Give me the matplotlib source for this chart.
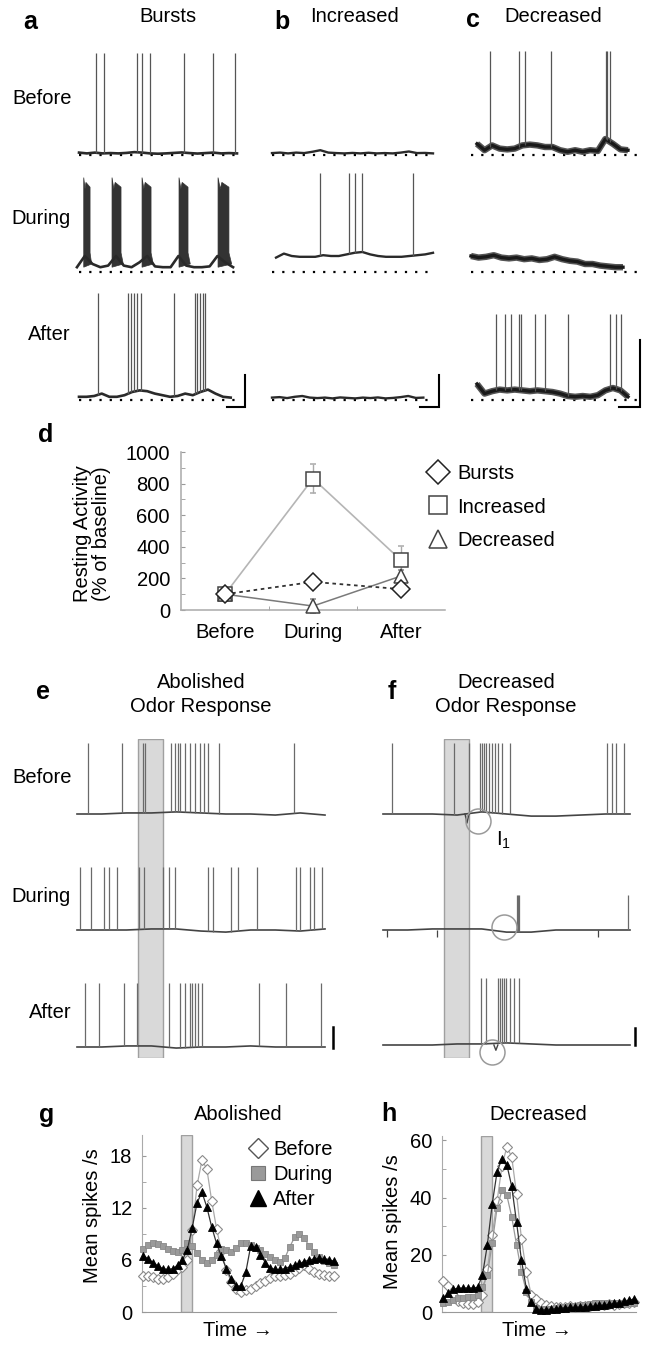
import numpy as np
import matplotlib
matplotlib.use('Agg')
import matplotlib.pyplot as plt
from matplotlib.lines import Line2D

plt.rcParams['font.family'] = ['Liberation Sans', 'DejaVu Sans']

W, H = 656, 1351
FS = 14.5
fig = plt.figure(figsize=(W / 100, H / 100), dpi=100)


def box(x0, y0, x1, y1):
    # axes from a pixel rectangle (y measured from the top)
    return fig.add_axes([x0 / W, 1 - y1 / H, (x1 - x0) / W, (y1 - y0) / H])


def txt(x, y, s, size=FS, **kw):
    fig.text(x / W, 1 - y / H, s, ha='center', va='center', fontsize=size, **kw)


# ---------------- data: traces a-c (time 0..1 of sweep, mV above rest) ----------------
a_before_spikes = [0.108, 0.158, 0.367, 0.399, 0.449, 0.665, 0.848, 0.987]
a_before_base = [1.5, 1.0, 1.5, 1.0, 1.2, 1.0, 1.3, 1.8, 1.5, 1.0, 0.8,
                 1.0, 1.3, 1.6, 1.2, 0.9, 1.2, 1.5, 1.0, 1.2, 1.0]
a_during_bursts = [(0.030, 0.070), (0.209, 0.266), (0.399, 0.456), (0.633, 0.690), (0.880, 0.949)]
a_during_base = [3, 10, 5, 3, 4, 10, 4, 3, 6, 10, 3.5, 3, 3, 10, 4, 3, 3, 3.5, 10, 6, 3]
a_after_spikes = [0.120, 0.310, 0.329, 0.348, 0.367, 0.392, 0.601, 0.734, 0.747, 0.766, 0.785, 0.797]
a_after_base = [2, 2, 2.5, 4, 2, 2, 3, 5, 6, 5.5, 4, 3, 2, 2.5, 4, 3, 5, 6.5, 4, 2, 1.5]

b_before_base = [1.2, 1.5, 1.0, 1.5, 1.2, 2.0, 3.0, 1.5, 1.2, 1.0, 1.3,
                 1.0, 1.4, 1.0, 1.2, 1.0, 1.5, 2.2, 1.2, 1.3, 1.0]
b_during_spikes = [0.298, 0.478, 0.516, 0.559, 0.876]
b_during_base = [9, 11.5, 10, 9.5, 9.5, 9.5, 10.5, 10, 10, 11, 12,
                 12.5, 11, 10, 9.5, 9.5, 9.5, 10, 10.5, 11, 12]
b_after_base = [1.5, 1.8, 1.2, 2.0, 2.5, 1.5, 1.2, 1.5, 1.0, 1.6, 1.3,
                1.0, 1.5, 1.2, 1.6, 1.0, 1.3, 1.8, 2.5, 1.3, 1.5]

c_before_spikes = [0.086, 0.278, 0.318, 0.490, 0.854, 0.861, 0.881]
c_before_base = [7, 3, 6, 4, 3.5, 4, 6, 6.5, 6, 5, 5, 3, 2, 3, 2, 3, 2.5, 10, 7, 3.5, 3]
c_during_base = [10, 9, 9.5, 10.5, 9, 8.5, 9, 8, 8.5, 7.5, 8,
                 9.5, 8, 7, 6.5, 5, 5, 4, 3.5, 3, 3]
c_after_spikes = [0.126, 0.185, 0.225, 0.278, 0.291, 0.384, 0.450, 0.603, 0.881, 0.921, 0.954]
c_after_base = [10, 4, 5.5, 6.5, 6, 6.5, 6, 5.5, 6, 5.5, 5, 4, 2.5, 2, 2.5, 2, 3, 6, 7.5, 6, 2]

# ---------------- data: traces e-f ----------------
odor_window = (0.245, 0.348)
e_before_spikes = [0.044, 0.181, 0.266, 0.274, 0.379, 0.395, 0.407, 0.415, 0.435, 0.456,
                   0.476, 0.496, 0.512, 0.528, 0.573, 0.875]
e_during_spikes = [0.012, 0.056, 0.109, 0.129, 0.161, 0.250, 0.270, 0.347, 0.371, 0.395,
                   0.528, 0.548, 0.621, 0.649, 0.726, 0.883, 0.899, 0.940, 0.956, 0.988]
e_after_spikes = [0.032, 0.089, 0.190, 0.242, 0.371, 0.415, 0.435, 0.456, 0.464, 0.476,
                  0.488, 0.504, 0.734, 0.843, 0.984]
f_before_spikes = [0.036, 0.287, 0.348, 0.393, 0.401, 0.409, 0.417, 0.429, 0.441, 0.453,
                   0.466, 0.482, 0.514, 0.907, 0.927, 0.943, 0.976]
f_during_spikes = [0.543, 0.547, 0.551, 0.992]
f_after_spikes = [0.397, 0.417, 0.466, 0.474, 0.482, 0.490, 0.498, 0.514, 0.530, 0.551]
e_before_base = [0, 0, 0.5, 0.5, 1.0, 0.5, 0, 0, -0.5, 0.5, -0.5]
e_during_base = [0, 0, 0, 0.5, 0.5, -0.5, -1.0, 0, 0, -0.5, 0.5]
e_after_base = [0, 0, 0.5, 0.5, -0.5, 0, 0, 0.5, 0, 0, 0]
f_before_base = [0, 0, 0, -0.5, 1.0, 0, -1, -1, -0.5, 0, 0]
f_during_base = [0, 0, 0.5, 0.5, 0.5, -1, -1, 0, 0, 0, 0]
f_after_base = [0, 0, 0, 0.5, 0.5, 1.0, 0.5, 0, 0, 0, 0]
f_dips = {'before': (0.340, -4.3), 'after': (0.457, -2.5)}
f_during_ticks = [0.016, 0.219, 0.870]
f_circles = [(0, 0.385, -3.3), (1, 0.490, 1.4), (2, 0.441, -3.3)]

# ---------------- data: panel d ----------------
phases = ['Before', 'During', 'After']
bursts_mean = [100, 178, 132]
bursts_err = [15, 25, 20]
increased_mean = [100, 832, 315]
increased_err = [15, 90, 88]
decreased_mean = [100, 25, 215]
decreased_err = [15, 42, 38]

# ---------------- data: panels g, h (mean spikes/s per time bin) ----------------
g_before = [4.2, 4.2, 4.0, 3.8, 3.8, 4.0, 4.4, 4.9, 5.2, 6.0, 9.5, 14.6, 17.5, 16.5, 12.8,
            9.6, 7.0, 4.8, 3.5, 2.7, 2.3, 2.5, 2.7, 3.0, 3.3, 3.6, 3.9, 4.1, 4.2, 4.3,
            4.4, 4.7, 5.1, 5.4, 5.0, 4.6, 4.4, 4.3, 4.2, 4.2]
g_during = [7.3, 7.7, 7.9, 7.8, 7.6, 7.3, 7.0, 6.9, 7.2, 7.9, 7.6, 6.8, 6.0, 5.7, 6.0,
            6.6, 7.3, 7.1, 6.9, 7.4, 7.9, 7.9, 7.7, 7.4, 7.1, 6.7, 6.3, 6.0, 5.8, 6.2,
            7.5, 8.6, 9.0, 8.5, 7.6, 6.9, 6.3, 5.9, 5.6, 5.4]
g_after = [6.5, 6.1, 5.7, 5.3, 5.0, 4.9, 5.0, 5.4, 6.0, 7.2, 9.7, 12.6, 13.8, 12.1, 9.8,
           7.9, 6.4, 5.0, 3.8, 3.0, 3.0, 4.6, 7.6, 7.5, 6.6, 5.7, 5.1, 4.9, 4.9, 5.0,
           5.2, 5.4, 5.6, 5.8, 6.0, 6.1, 6.2, 6.1, 6.0, 5.9]
h_before = [11.0, 9.2, 6.0, 4.0, 3.2, 2.8, 2.8, 3.5, 6.0, 15.0, 27.0, 38.7, 51.0, 57.7, 54.2,
            41.1, 25.6, 14.0, 6.0, 4.6, 3.2, 2.4, 2.0, 1.8, 1.7, 1.8, 2.0, 1.9, 2.1, 2.0,
            2.2, 2.4, 2.3, 2.5, 2.7, 2.6, 2.8, 3.0, 3.2, 3.4]
h_during = [3.0, 3.5, 4.2, 4.8, 5.0, 5.2, 5.4, 6.0, 8.8, 12.9, 24.0, 36.4, 42.6, 40.8, 33.3,
            23.4, 14.1, 7.1, 3.6, 1.5, 1.0, 1.0, 1.2, 1.4, 1.6, 1.8, 2.0, 2.1, 2.3, 2.6,
            2.8, 3.0, 3.2, 3.3, 3.3, 3.2, 3.0, 2.9, 3.0, 3.2]
h_after = [4.8, 6.5, 8.0, 8.3, 8.4, 8.4, 8.4, 8.6, 12.9, 23.4, 37.7, 49.0, 53.6, 51.5, 43.9,
           31.3, 18.1, 8.2, 3.5, 1.2, 0.8, 0.8, 1.0, 1.2, 1.4, 1.5, 1.6, 1.7, 1.8, 1.9,
           2.0, 2.1, 2.3, 2.5, 2.7, 3.0, 3.3, 3.7, 4.1, 4.5]
stim_bins = (7.6, 9.9)


# ---------------- helpers ----------------
def trace_ax(x0, x1, ref, k, lo, hi):
    ax = box(x0, ref - hi * k, x1, ref - lo * k)
    ax.set_xlim(0, 1)
    ax.set_ylim(lo, hi)
    ax.axis('off')
    ax.patch.set_alpha(0)
    return ax


def draw_trace(ax, span, base, spikes=(), peak=0, lw=1.4, color='#2a2a2a',
               spike_color='#555555', spike_lw=0.9, noisy=False):
    tb = np.linspace(span[0], span[1], len(base))
    if noisy:
        # wide grey band under a dark core, like a noisy recording
        ax.plot(tb, base, color='#555555', lw=lw + 2.2, solid_joinstyle='round',
                solid_capstyle='butt', clip_on=False)
    ax.plot(tb, base, color=color, lw=lw, solid_joinstyle='round', clip_on=False)
    if len(spikes):
        sb = np.interp(spikes, tb, base)
        ax.vlines(spikes, sb, peak, color=spike_color, lw=spike_lw, clip_on=False)


def dotted(ax, span):
    ax.plot(span, [0, 0], color='black', lw=1.6, linestyle=(0, (1, 3.6)), clip_on=False)


def scalebar(ax, x, x_left, y0, height, lw=1.5):
    ax.plot([x_left, x, x], [y0, y0, y0 + height], color='black', lw=lw,
            clip_on=False, solid_joinstyle='miter')


# ---------------- panels a-c ----------------
K = 1.6
refs = [155, 272, 400]

# a
ax = trace_ax(79, 237, refs[0], K, -8, 72)
dotted(ax, (0, 1))
draw_trace(ax, (0, 1), a_before_base, a_before_spikes, 64, lw=1.9)
ax = trace_ax(79, 237, refs[1], K, -8, 72)
dotted(ax, (0, 1))
draw_trace(ax, (-0.013, 0.975), a_during_base, lw=1.9)
for s, e in a_during_bursts:
    w = e - s
    ax.fill([s, s, s + 0.2 * w, s + 0.35 * w, e, e, e + 0.25 * w],
            [3, 59, 52, 56, 53, 12, 5], color='#333333', lw=0.5, clip_on=False)
ax = trace_ax(79, 237, refs[2], K, -8, 72)
dotted(ax, (0, 1))
draw_trace(ax, (0, 0.96), a_after_base, a_after_spikes, 67, lw=1.9)
scalebar(ax, 1.052, 0.935, -4.4, 20)

# b
ax = trace_ax(272, 433, refs[0], K, -8, 72)
dotted(ax, (0, 0.99))
draw_trace(ax, (0, 1), b_before_base, lw=1.7)
ax = trace_ax(272, 433, refs[1], K, -8, 72)
dotted(ax, (0, 0.99))
draw_trace(ax, (0.025, 1), b_during_base, b_during_spikes, 62, lw=1.7)
ax = trace_ax(272, 433, refs[2], K, -8, 72)
dotted(ax, (0, 0.99))
draw_trace(ax, (0, 0.94), b_after_base, lw=1.7)
scalebar(ax, 1.037, 0.92, -4.4, 20)

# c
ax = trace_ax(477, 628, refs[0], K, -8, 72)
dotted(ax, (-0.04, 1.066))
draw_trace(ax, (0, 1), c_before_base, c_before_spikes, 65, lw=2.4, color='#1a1a1a', noisy=True)
ax = trace_ax(477, 628, refs[1], K, -8, 72)
dotted(ax, (-0.04, 1.066))
draw_trace(ax, (-0.04, 0.967), c_during_base, lw=2.4, color='#1a1a1a', noisy=True)
ax = trace_ax(477, 628, refs[2], K, -8, 72)
dotted(ax, (-0.04, 1.066))
draw_trace(ax, (0, 1), c_after_base, c_after_spikes, 54, lw=2.4, color='#1a1a1a', noisy=True)
scalebar(ax, 1.08, 0.94, -4.4, 42)

txt(30, 22, 'a', size=18, weight='bold')
txt(282, 22, 'b', size=18, weight='bold')
txt(473, 20, 'c', size=18, weight='bold')
txt(168, 17, 'Bursts')
txt(354, 16, 'Increased')
txt(553, 17, 'Decreased')
txt(42, 99, 'Before')
txt(41, 218, 'During')
txt(49, 335, 'After')

# ---------------- panel d ----------------
ax = box(181, 452, 445, 610)
xs = np.arange(len(phases))
ax.errorbar(xs, increased_mean, yerr=increased_err, color='#b5b5b5', lw=1.2,
            ecolor='#aaaaaa', elinewidth=1, capsize=2.5, marker='s', ms=10,
            mfc='white', mec='#444444', mew=1.1, zorder=3, clip_on=False)
ax.errorbar(xs, decreased_mean, yerr=decreased_err, color='#7a7a7a', lw=1.1,
            ecolor='#888888', elinewidth=1, capsize=2.5, marker='^', ms=10,
            mfc='white', mec='#444444', mew=1.1, zorder=4, clip_on=False)
ax.errorbar(xs, bursts_mean, yerr=bursts_err, color='#333333', lw=1.3, ls=(0, (2, 2)),
            ecolor='#888888', elinewidth=1, capsize=2.5, marker='D', ms=9,
            mfc='white', mec='#222222', mew=1.1, zorder=5, clip_on=False)
ax.set_xlim(-0.5, 2.5)
ax.set_ylim(0, 1000)
ax.set_xticks(xs)
ax.set_xticklabels(phases, fontsize=FS)
ax.set_xticks([0.5, 1.5], minor=True)
ax.set_yticks(range(0, 1001, 200))
ax.set_yticks(range(100, 1000, 200), minor=True)
ax.tick_params(axis='y', labelsize=FS, length=3, direction='in', color='#999999', pad=8)
ax.tick_params(axis='y', which='minor', length=3, direction='in', color='#999999')
ax.tick_params(axis='x', which='major', length=0, pad=9)
ax.tick_params(axis='x', which='minor', length=3, direction='in', color='#999999')
for side in ['top', 'right']:
    ax.spines[side].set_visible(False)
for side in ['left', 'bottom']:
    ax.spines[side].set_color('#aaaaaa')
    ax.spines[side].set_linewidth(1.1)
fig.text(92 / W, 1 - 534 / H, 'Resting Activity\n(% of baseline)', rotation=90,
         ha='center', va='center', fontsize=FS, linespacing=0.95, multialignment='center')
txt(46, 435, 'd', size=18, weight='bold')
d_handles = [Line2D([], [], ls='none', marker='D', ms=12, mfc='white', mec='#222222', mew=1.1),
             Line2D([], [], ls='none', marker='s', ms=13, mfc='white', mec='#444444', mew=1.1),
             Line2D([], [], ls='none', marker='^', ms=13, mfc='white', mec='#444444', mew=1.1)]
fig.legend(d_handles, ['Bursts', 'Increased', 'Decreased'], loc='upper left',
           bbox_to_anchor=(428 / W, 1 - 464 / H), frameon=False, fontsize=FS,
           handlelength=1.0, handletextpad=0.45, labelspacing=0.72, borderpad=0, borderaxespad=0)

# ---------------- panels e, f ----------------
KE = 2.1
ef_base = [814, 930, 1047]
for x0, x1 in [(77, 325), (383, 630)]:
    bg = box(x0, 739, x1, 1058)
    bg.set_xlim(0, 1)
    bg.set_ylim(0, 1)
    bg.axis('off')
    bg.axvspan(odor_window[0], odor_window[1], ymin=0, ymax=1, facecolor='#d9d9d9',
               edgecolor='#a0a0a0', lw=1)

e_rows = [(e_before_base, e_before_spikes, 34), (e_during_base, e_during_spikes, 30),
          (e_after_base, e_after_spikes, 30.5)]
for r, (base, spikes, peak) in enumerate(e_rows):
    ax = trace_ax(77, 325, ef_base[r], KE, -10, 40)
    draw_trace(ax, (0, 1), base, spikes, peak, lw=1.2, color='#444444',
               spike_color='#6a6a6a', spike_lw=0.9)
    if r == 2:
        scalebar(ax, 1.032, 1.032, -0.5, 10, lw=1.8)

f_ref = [814, 930, 1045]
f_rows = [(f_before_base, f_before_spikes, 34), (f_during_base, f_during_spikes, 16.7),
          (f_after_base, f_after_spikes, 32)]
f_axes = []
for r, (base, spikes, peak) in enumerate(f_rows):
    ax = trace_ax(383, 630, f_ref[r], KE, -10, 40)
    draw_trace(ax, (0, 1), base, spikes, peak, lw=1.2, color='#444444',
               spike_color='#6a6a6a', spike_lw=0.9)
    f_axes.append(ax)
for key, r in [('before', 0), ('after', 2)]:
    t, depth = f_dips[key]
    f_axes[r].plot([t - 0.008, t, t + 0.008], [0, depth, 0], color='#444444', lw=1)
f_axes[1].vlines(f_during_ticks, -3.3, 0, color='#444444', lw=0.9)
for r, t, v in f_circles:
    f_axes[r].plot([t], [v], marker='o', ms=18, mfc='none', mec='#9a9a9a', mew=1.1,
                   clip_on=False)
scalebar(f_axes[2], 1.02, 1.02, 0, 8, lw=1.8)
fig.text(504 / W, 1 - 840 / H, r'I$_\mathregular{1}$', ha='center', va='center', fontsize=FS)

txt(43, 692, 'e', size=18, weight='bold')
txt(392, 692, 'f', size=18, weight='bold')
txt(201, 682, 'Abolished')
txt(201, 707, 'Odor Response')
txt(506, 683, 'Decreased')
txt(506, 707, 'Odor Response')
txt(42, 777, 'Before')
txt(41, 897, 'During')
txt(50, 1013, 'After')


# ---------------- panels g, h ----------------
def rate_panel(ax, before, during, after, ymax, major, minor, ms):
    t = np.arange(len(before))
    ax.axvspan(stim_bins[0], stim_bins[1], facecolor='#d9d9d9', edgecolor='#a0a0a0',
               lw=1, zorder=0)
    ax.plot(t, before, color='#aaaaaa', lw=0.9, marker='D', ms=ms, mfc='white',
            mec='#8a8a8a', mew=0.8, clip_on=False, zorder=3)
    ax.plot(t, during, color='#999999', lw=0.9, marker='s', ms=ms - 0.6, mfc='#9a9a9a',
            mec='#888888', mew=0.6, clip_on=False, zorder=4)
    ax.plot(t, after, color='#333333', lw=0.9, marker='^', ms=ms, mfc='black',
            mec='black', mew=0.6, clip_on=False, zorder=5)
    ax.set_xlim(-0.3, len(before) - 0.5)
    ax.set_ylim(0, ymax)
    ax.set_xticks([])
    ax.set_yticks(major)
    ax.set_yticks(minor, minor=True)
    ax.tick_params(axis='y', labelsize=FS, length=3, direction='in', color='#999999', pad=7)
    ax.tick_params(axis='y', which='minor', length=3, direction='in', color='#999999')
    for side in ['top', 'right']:
        ax.spines[side].set_visible(False)
    ax.spines['left'].set_color('#aaaaaa')
    ax.spines['bottom'].set_color('#999999')
    ax.spines['bottom'].set_linestyle((0, (1, 1)))


ax = box(142, 1135, 336, 1312)
rate_panel(ax, g_before, g_during, g_after, 20.4, [0, 6, 12, 18], [3, 9, 15], 5.5)
ax = box(442, 1136, 636, 1312)
rate_panel(ax, h_before, h_during, h_after, 61.5, [0, 20, 40, 60], [10, 30, 50], 5.5)

g_handles = [Line2D([], [], ls='none', marker='D', ms=10, mfc='white', mec='#555555', mew=1),
             Line2D([], [], ls='none', marker='s', ms=10, mfc='#9a9a9a', mec='#777777', mew=0.8),
             Line2D([], [], ls='none', marker='^', ms=11, mfc='black', mec='black')]
fig.legend(g_handles, ['Before', 'During', 'After'], loc='upper left',
           bbox_to_anchor=(249 / W, 1 - 1140 / H), frameon=False, fontsize=FS,
           handlelength=0.9, handletextpad=0.3, labelspacing=0.3, borderpad=0, borderaxespad=0)

txt(47, 1115, 'g', size=18, weight='bold')
txt(389, 1114, 'h', size=18, weight='bold')
txt(238, 1114, 'Abolished')
txt(538, 1114, 'Decreased')
txt(238, 1330, 'Time →')
txt(537, 1330, 'Time →')
fig.text(92 / W, 1 - 1216 / H, 'Mean spikes /s', rotation=90, ha='center', va='center', fontsize=FS)
fig.text(392 / W, 1 - 1222 / H, 'Mean spikes /s', rotation=90, ha='center', va='center', fontsize=FS)

fig.savefig('out.png', dpi=100)
